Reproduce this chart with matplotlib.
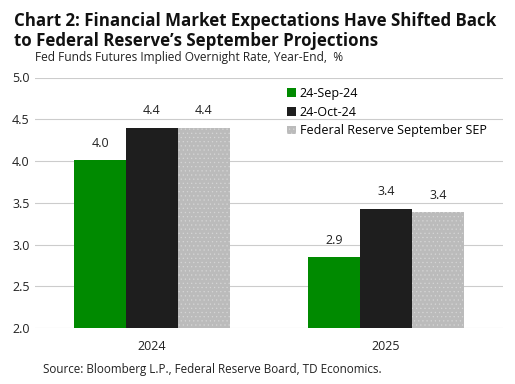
import matplotlib
matplotlib.use("Agg")
import matplotlib.pyplot as plt
import numpy as np

plt.rcParams['font.family'] = ['Open Sans', 'DejaVu Sans']

categories = ["2024", "2025"]
series_names = ["24-Sep-24", "24-Oct-24", "Federal Reserve September SEP"]
sep24 = [4.01, 2.85]
oct24 = [4.40, 3.43]
fed_sep = [4.40, 3.39]
labels_sep24 = ["4.0", "2.9"]
labels_oct24 = ["4.4", "3.4"]
labels_fed = ["4.4", "3.4"]
yticks = [2.0, 2.5, 3.0, 3.5, 4.0, 4.5, 5.0]

colors = ["#008A00", "#1E1E1E", "#BBBBBB"]

fig = plt.figure(figsize=(5.15, 3.84), dpi=100)
ax = fig.add_axes([35/515, 1-328/384, (503-35)/515, (328-77.5)/384])

x = np.arange(len(categories))
w = 0.222
data = [sep24, oct24, fed_sep]
labs = [labels_sep24, labels_oct24, labels_fed]
for i, (vals, lab, c, name) in enumerate(zip(data, labs, colors, series_names)):
    pos = x + (i - 1) * w
    if i == 2:
        plt.rcParams['hatch.color'] = '#d6d6d6'
        plt.rcParams['hatch.linewidth'] = 0.4
        bars = ax.bar(pos, np.array(vals) - 2.0, w, bottom=2.0, color=c, label=name,
                      hatch='....', linewidth=0, zorder=3)
    else:
        bars = ax.bar(pos, np.array(vals) - 2.0, w, bottom=2.0, color=c, label=name,
                      linewidth=0, zorder=3)
    for p, v, t in zip(pos, vals, lab):
        ax.text(p, v + 0.2, t, ha='center', va='center', fontsize=9, color='#222222')

ax.set_xlim(-0.5, 1.5)
ax.set_ylim(2.0, 5.0)
ax.set_yticks(yticks)
ax.set_yticklabels([f"{t:.1f}" for t in yticks])
ax.set_xticks(x)
ax.set_xticklabels(categories)
ax.tick_params(axis='both', length=0, labelsize=9, colors='#222222')
ax.tick_params(axis='x', pad=9)
ax.tick_params(axis='y', pad=4)
for s in ax.spines.values():
    s.set_visible(False)
ax.yaxis.grid(True, color='#cccccc', linewidth=0.8, zorder=0)
ax.set_axisbelow(True)

fig.text(14/515, 1-26.5/384, "Chart 2: Financial Market Expectations Have Shifted Back",
         fontsize=12.2, fontweight='bold', va='baseline', ha='left', color='#111111')
fig.text(14/515, 1-46.5/384, "to Federal Reserve\u2019s September Projections",
         fontsize=12.2, fontweight='bold', va='baseline', ha='left', color='#111111')
fig.text(35/515, 1-61.5/384, "Fed Funds Futures Implied Overnight Rate, Year-End,  %",
         fontsize=8.6, va='baseline', ha='left', color='#222222')
fig.text(43/515, 1-370/384, "Source: Bloomberg L.P., Federal Reserve Board, TD Economics.",
         fontsize=8.4, va='center', ha='left', color='#222222')

fig.legend(loc='upper left', bbox_to_anchor=(287/515, 1-87/384), frameon=False,
           fontsize=9, handlelength=0.7, handleheight=0.7, handletextpad=0.3,
           labelspacing=0.45, borderaxespad=0, borderpad=0)

fig.savefig("out.png", dpi=100)
